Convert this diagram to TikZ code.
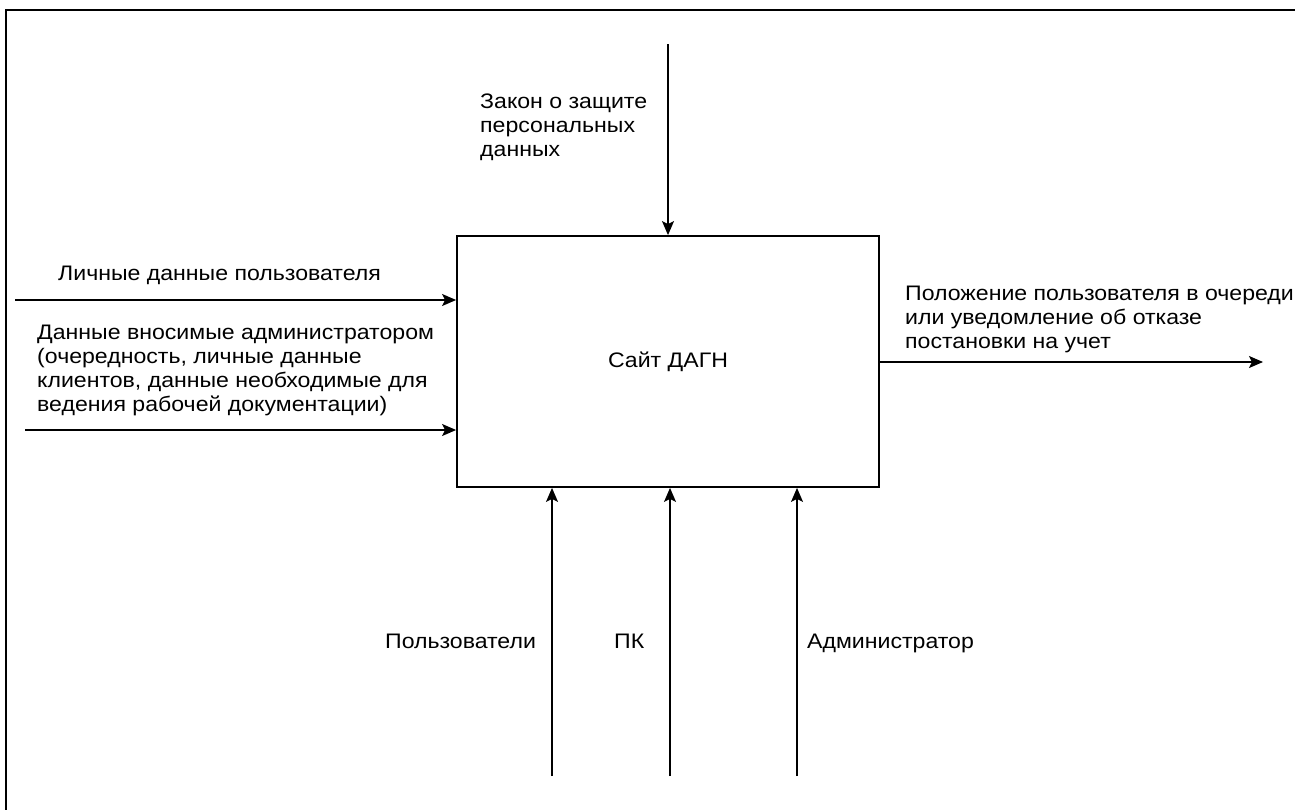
\documentclass[tikz,border=0pt]{standalone}
\usepackage{fontspec}
\setmainfont{Liberation Sans}[FakeStretch=1.1]
\usetikzlibrary{arrows.meta,positioning}

\begin{document}
\begin{tikzpicture}[
	x=1pt, y=-1pt,
	every node/.style={font=\fontsize{21}{24}\selectfont, inner sep=0pt},
	box/.style={draw, line width=1.8pt, minimum width=422pt, minimum height=251pt},
	label/.style={align=left, anchor=north west},
	arrow/.style={-{Stealth[length=14pt, width=12pt, inset=3pt]}, line width=1.3pt}
	]
	
	\useasboundingbox (0,0) rectangle (1295,809);
	\draw[line width=2pt] (1300,10) -- (6,10) -- (6,815);
	
	\node[box] (site) at (668,361.5) {Сайт ДАГН};
	
	% free ends of the connectors
	\coordinate (law) at (668,44);
	\coordinate (in1) at (15,300);
	\coordinate (in2) at (25,430);
	\coordinate (out) at (1263,362);
	\coordinate (m1) at (552,776);
	\coordinate (m2) at (670,776);
	\coordinate (m3) at (797,776);
	
	\draw[arrow] (law) -- (law |- site.north);
	\draw[arrow] (in1) -- (in1 -| site.west);
	\draw[arrow] (in2) -- (in2 -| site.west);
	\draw[arrow] (out -| site.east) -- (out);
	\draw[arrow] (m1) -- (m1 |- site.south);
	\draw[arrow] (m2) -- (m2 |- site.south);
	\draw[arrow] (m3) -- (m3 |- site.south);
	
	\node[label] (lawtxt) at (480,94) {Закон о защите\\персональных\\данных};
	\node[label] (in1txt) at (58,266) {Личные данные пользователя};
	\node[label] (in2txt) at (37,325) {Данные вносимые администратором\\(очередность, личные данные\\клиентов, данные необходимые для\\ведения рабочей документации)};
	\node[label] (outtxt) at (905,286) {Положение пользователя в очереди\\или уведомление об отказе\\постановки на учет};
	\node[anchor=base west] (m1txt) at (385,648) {Пользователи};
	\node[anchor=base west] (m2txt) at (614,648) {ПК};
	\node[anchor=base west] (m3txt) at (807,648) {Администратор};
	
\end{tikzpicture}
\end{document}
